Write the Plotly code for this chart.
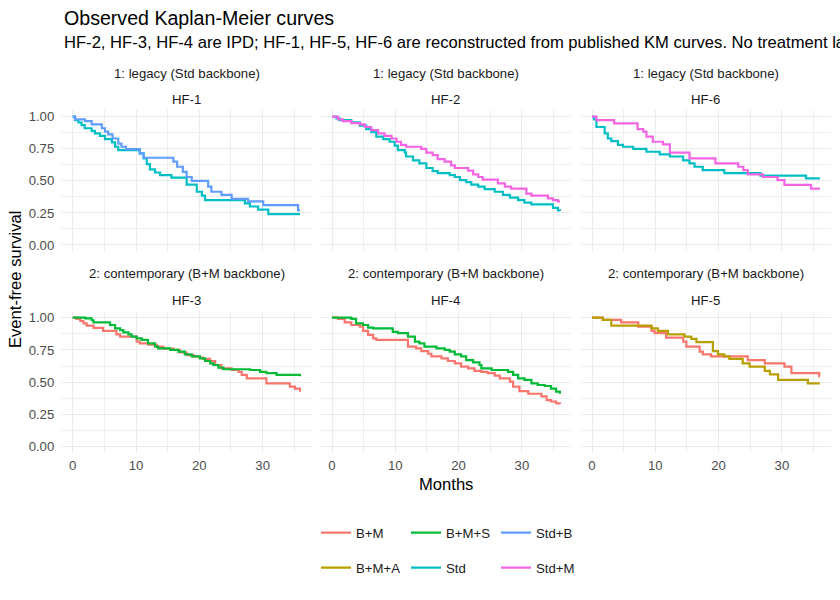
import plotly.graph_objects as go

# ---------------- data ----------------
hf1_stdb_t = [0, 0.37, 1.95, 3.0, 4.6, 5.1, 5.6, 6.3, 7.2, 7.7, 8.4, 10.6, 11.2, 15.9, 16.5, 17.4, 18.0, 18.8, 21.4, 21.9, 23.5, 25.1, 27.7, 30.1, 35.6, 35.9]
hf1_stdb_s = [1.0, 0.98, 0.966, 0.94, 0.91, 0.883, 0.862, 0.83, 0.79, 0.766, 0.748, 0.714, 0.68, 0.65, 0.61, 0.57, 0.53, 0.50, 0.455, 0.415, 0.39, 0.36, 0.34, 0.31, 0.27, 0.27]
hf1_std_t = [0, 0.37, 0.9, 1.4, 1.9, 3.0, 3.5, 4.3, 5.1, 6.2, 6.7, 7.2, 10.6, 11.2, 11.7, 12.2, 13.0, 13.8, 15.6, 18.0, 19.6, 20.4, 20.9, 27.2, 28.0, 29.3, 30.9, 35.9]
hf1_std_s = [1.0, 0.974, 0.955, 0.935, 0.91, 0.89, 0.87, 0.85, 0.825, 0.80, 0.766, 0.74, 0.714, 0.675, 0.63, 0.59, 0.565, 0.545, 0.525, 0.47, 0.415, 0.385, 0.35, 0.325, 0.30, 0.275, 0.24, 0.24]

hf2_stdm_t = [0, 0.95, 1.7, 3.05, 4.4, 5.2, 6.2, 7.3, 8.3, 9.4, 10.2, 10.9, 11.7, 14.1, 14.9, 15.9, 16.7, 17.8, 18.8, 19.4, 21.5, 22.3, 23.1, 23.8, 26.2, 27.3, 28.3, 30.7, 31.5, 34.1, 34.9, 35.7, 36.0]
hf2_stdm_s = [1.0, 0.98, 0.966, 0.95, 0.94, 0.92, 0.896, 0.87, 0.85, 0.83, 0.805, 0.78, 0.766, 0.75, 0.72, 0.70, 0.67, 0.65, 0.62, 0.60, 0.58, 0.55, 0.53, 0.51, 0.48, 0.455, 0.44, 0.40, 0.385, 0.364, 0.35, 0.34, 0.34]
hf2_std_t = [0, 0.7, 1.2, 3.05, 4.4, 5.4, 6.2, 7.0, 8.1, 9.1, 9.9, 10.4, 11.5, 11.7, 12.8, 13.8, 14.9, 15.9, 16.7, 18.6, 19.4, 20.2, 21.2, 22.0, 23.1, 24.1, 25.7, 27.0, 28.1, 29.4, 30.4, 31.5, 34.9, 35.7, 36.0]
hf2_std_s = [1.0, 0.987, 0.974, 0.956, 0.93, 0.904, 0.88, 0.844, 0.826, 0.805, 0.774, 0.74, 0.72, 0.69, 0.66, 0.636, 0.60, 0.576, 0.56, 0.545, 0.53, 0.506, 0.49, 0.47, 0.455, 0.436, 0.415, 0.39, 0.37, 0.35, 0.33, 0.317, 0.29, 0.27, 0.265]

hf6_stdm_t = [0, 0.7, 3.5, 7.2, 8.1, 8.6, 9.6, 11.2, 12.3, 15.4, 19.5, 23.1, 23.9, 24.6, 27.0, 29.3, 30.4, 34.6, 36.0]
hf6_stdm_s = [1.0, 0.974, 0.948, 0.904, 0.883, 0.844, 0.805, 0.784, 0.72, 0.675, 0.636, 0.61, 0.584, 0.55, 0.53, 0.506, 0.468, 0.44, 0.44]
hf6_std_t = [0, 0.3, 0.7, 2.0, 2.5, 3.05, 4.1, 4.9, 6.5, 8.6, 10.7, 12.3, 14.4, 15.4, 16.2, 17.5, 20.9, 26.6, 33.8, 36.0]
hf6_std_s = [1.0, 0.98, 0.92, 0.87, 0.83, 0.81, 0.78, 0.766, 0.75, 0.727, 0.706, 0.69, 0.66, 0.636, 0.61, 0.584, 0.56, 0.54, 0.52, 0.52]

hf3_bm_t = [0, 0.6, 1.2, 1.7, 2.2, 3.3, 4.8, 6.9, 7.5, 10.1, 10.6, 11.9, 13.3, 14.3, 15.9, 16.9, 18.0, 19.1, 20.1, 20.6, 21.7, 22.5, 23.5, 25.1, 26.2, 26.7, 27.5, 30.6, 34.3, 35.1, 35.9]
hf3_bm_s = [1.0, 0.99, 0.974, 0.956, 0.938, 0.92, 0.897, 0.87, 0.853, 0.814, 0.80, 0.79, 0.775, 0.76, 0.75, 0.73, 0.71, 0.70, 0.69, 0.68, 0.664, 0.633, 0.607, 0.594, 0.58, 0.556, 0.53, 0.49, 0.465, 0.45, 0.426]
hf3_bms_t = [0, 2.0, 3.0, 3.3, 5.9, 6.7, 7.5, 8.0, 8.8, 9.3, 10.1, 10.9, 11.9, 13.0, 13.5, 15.4, 16.7, 17.7, 18.8, 20.1, 20.9, 21.7, 22.2, 23.0, 23.8, 28.0, 29.6, 30.6, 32.2, 35.9]
hf3_bms_s = [1.0, 0.995, 0.98, 0.964, 0.943, 0.917, 0.904, 0.886, 0.87, 0.853, 0.84, 0.827, 0.80, 0.775, 0.762, 0.75, 0.736, 0.716, 0.70, 0.685, 0.664, 0.646, 0.633, 0.612, 0.60, 0.594, 0.58, 0.57, 0.556, 0.545]

hf4_bm_t = [0, 0.95, 2.0, 3.05, 4.4, 4.9, 5.7, 6.5, 7.0, 12.0, 13.3, 14.1, 15.2, 15.7, 17.3, 18.3, 19.4, 20.4, 21.5, 22.5, 23.6, 24.6, 25.7, 26.5, 28.1, 28.6, 29.6, 31.0, 33.1, 33.9, 34.6, 35.4, 36.0]
hf4_bm_s = [1.0, 0.99, 0.964, 0.943, 0.93, 0.897, 0.866, 0.84, 0.827, 0.775, 0.762, 0.74, 0.72, 0.70, 0.685, 0.664, 0.646, 0.62, 0.607, 0.587, 0.58, 0.57, 0.55, 0.53, 0.504, 0.465, 0.43, 0.41, 0.39, 0.36, 0.35, 0.336, 0.33]
hf4_bms_t = [0, 3.05, 3.8, 4.9, 5.7, 6.5, 9.6, 10.4, 12.0, 13.1, 13.8, 14.6, 16.5, 17.8, 18.6, 19.4, 20.4, 21.2, 22.3, 23.3, 23.6, 25.2, 27.8, 28.6, 29.4, 30.4, 31.5, 32.5, 33.6, 34.6, 35.4, 36.0]
hf4_bms_s = [1.0, 0.99, 0.956, 0.943, 0.922, 0.917, 0.89, 0.88, 0.853, 0.814, 0.80, 0.775, 0.762, 0.75, 0.736, 0.716, 0.70, 0.67, 0.654, 0.633, 0.607, 0.594, 0.58, 0.556, 0.53, 0.517, 0.49, 0.478, 0.47, 0.45, 0.426, 0.41]

hf5_bm_t = [0, 1.7, 4.6, 7.3, 9.4, 9.9, 11.7, 14.4, 14.9, 17.0, 17.5, 18.8, 24.6, 27.3, 30.4, 31.5, 35.9, 36.0]
hf5_bm_s = [1.0, 0.982, 0.964, 0.93, 0.897, 0.88, 0.845, 0.814, 0.775, 0.736, 0.716, 0.70, 0.67, 0.646, 0.62, 0.57, 0.545, 0.545]
hf5_bma_t = [0, 1.7, 3.05, 9.4, 10.4, 12.0, 14.6, 15.7, 16.5, 19.1, 19.9, 20.9, 21.7, 23.8, 24.9, 27.3, 28.1, 29.4, 34.1, 36.0]
hf5_bma_s = [1.0, 0.982, 0.938, 0.917, 0.897, 0.87, 0.853, 0.835, 0.81, 0.74, 0.716, 0.70, 0.68, 0.646, 0.62, 0.587, 0.56, 0.517, 0.49, 0.49]

arms = ["B+M", "B+M+A", "B+M+S", "Std", "Std+B", "Std+M"]
colors = {"B+M": "#F8766D", "B+M+A": "#B79F00", "B+M+S": "#00BA38",
          "Std": "#00BFC4", "Std+B": "#619CFF", "Std+M": "#F564E3"}

title_text = "Observed Kaplan-Meier curves"
# the subtitle runs off the right edge of the reference; only the visible part is kept
subtitle_text = "HF-2, HF-3, HF-4 are IPD; HF-1, HF-5, HF-6 are reconstructed from published KM curves. No treatment la"

panels = [  # (strip line 1, strip line 2, series list)
    ("1: legacy (Std backbone)", "HF-1", [("Std", hf1_std_t, hf1_std_s), ("Std+B", hf1_stdb_t, hf1_stdb_s)]),
    ("1: legacy (Std backbone)", "HF-2", [("Std", hf2_std_t, hf2_std_s), ("Std+M", hf2_stdm_t, hf2_stdm_s)]),
    ("1: legacy (Std backbone)", "HF-6", [("Std", hf6_std_t, hf6_std_s), ("Std+M", hf6_stdm_t, hf6_stdm_s)]),
    ("2: contemporary (B+M backbone)", "HF-3", [("B+M", hf3_bm_t, hf3_bm_s), ("B+M+S", hf3_bms_t, hf3_bms_s)]),
    ("2: contemporary (B+M backbone)", "HF-4", [("B+M", hf4_bm_t, hf4_bm_s), ("B+M+S", hf4_bms_t, hf4_bms_s)]),
    ("2: contemporary (B+M backbone)", "HF-5", [("B+M", hf5_bm_t, hf5_bm_s), ("B+M+A", hf5_bma_t, hf5_bma_s)]),
]

# legend slots: (legend id, x px of sample start, y px center)
legend_slots = {"B+M": ("legend", 316, 533), "B+M+S": ("legend2", 406, 533), "Std+B": ("legend3", 496, 533),
                "B+M+A": ("legend4", 316, 568), "Std": ("legend5", 406, 568), "Std+M": ("legend6", 496, 568)}

W, H = 840, 600
FONT = "Liberation Sans, Arial, sans-serif"
SMALL = 13.2
BIG = 16.6

fig = go.Figure()
shown = set()
for i, (s1, s2, series) in enumerate(panels):
    ax = "" if i == 0 else str(i + 1)
    for arm, t, s in series:
        fig.add_trace(go.Scatter(
            x=t, y=s, mode="lines", line=dict(color=colors[arm], width=2.2, shape="hv"),
            name=arm, xaxis="x" + ax, yaxis="y" + ax,
            legend=legend_slots[arm][0], showlegend=arm not in shown, hoverinfo="skip"))
        shown.add(arm)

xdom = [(61.3, 312.0), (320.6, 571.3), (580.6, 831.3)]
ydom = [(110.3, 251.4), (311.2, 453.1)]

layout = dict(
    width=W, height=H, margin=dict(l=0, r=0, t=0, b=0),
    paper_bgcolor="white", plot_bgcolor="white",
    font=dict(family=FONT, color="#1A1A1A"),
    showlegend=True,
)
grid = dict(showgrid=True, gridcolor="#EBEBEB", gridwidth=1.4, zeroline=False, showline=False,
            ticks="", automargin=False,
            tickfont=dict(family=FONT, size=SMALL, color="#4D4D4D"))
minor = dict(showgrid=True, gridcolor="#EEEEEE", gridwidth=0.8)
for i in range(6):
    r, c = divmod(i, 3)
    ax = "" if i == 0 else str(i + 1)
    x0, x1 = xdom[c]
    y0, y1 = ydom[r]
    layout["xaxis" + ax] = dict(grid, domain=[x0 / W, x1 / W], range=[-1.8, 37.8],
                                tickvals=[0, 10, 20, 30], minor=dict(minor, tickvals=[5, 15, 25, 35]),
                                showticklabels=(r == 1), ticklabelstandoff=3, anchor="y" + ax)
    layout["yaxis" + ax] = dict(grid, domain=[1 - y1 / H, 1 - y0 / H], range=[-0.05, 1.05],
                                tickvals=[0, 0.25, 0.5, 0.75, 1.0], ticktext=["0.00", "0.25", "0.50", "0.75", "1.00"],
                                minor=dict(minor, tickvals=[0.125, 0.375, 0.625, 0.875]),
                                showticklabels=(c == 0), ticklabelstandoff=6, anchor="x" + ax)

for arm, (lid, px, py) in legend_slots.items():
    layout[lid] = dict(x=px / W, y=1 - py / H, xanchor="left", yanchor="middle", orientation="h",
                       bgcolor="rgba(0,0,0,0)", font=dict(family=FONT, size=SMALL, color="#1A1A1A"),
                       itemwidth=30, tracegroupgap=0)
fig.update_layout(**layout)

ann = []
ann.append(dict(text=title_text, x=62 / W, y=1 - 18 / H, xanchor="left", yanchor="middle",
                font=dict(size=19.6, color="black")))
ann.append(dict(text=subtitle_text, x=62 / W, y=1 - 43 / H, xanchor="left", yanchor="middle",
                font=dict(size=BIG, color="black")))
for i, (s1, s2, series) in enumerate(panels):
    r, c = divmod(i, 3)
    cx = (xdom[c][0] + xdom[c][1]) / 2 / W
    base = 73 if r == 0 else 273
    ann.append(dict(text=s1, x=cx, y=1 - base / H, xanchor="center", yanchor="middle",
                    font=dict(size=SMALL, color="#1A1A1A")))
    ann.append(dict(text=s2, x=cx, y=1 - (base + 27) / H, xanchor="center", yanchor="middle",
                    font=dict(size=SMALL, color="#1A1A1A")))
ann.append(dict(text="Months", x=446 / W, y=1 - 484 / H, xanchor="center", yanchor="middle",
                font=dict(size=BIG, color="black")))
ann.append(dict(text="Event-free survival", x=15 / W, y=1 - 280 / H, xanchor="center", yanchor="middle",
                textangle=-90, font=dict(size=BIG, color="black")))
for a in ann:
    a.update(xref="paper", yref="paper", showarrow=False)
fig.update_layout(annotations=ann)

fig.write_html("out.html")
